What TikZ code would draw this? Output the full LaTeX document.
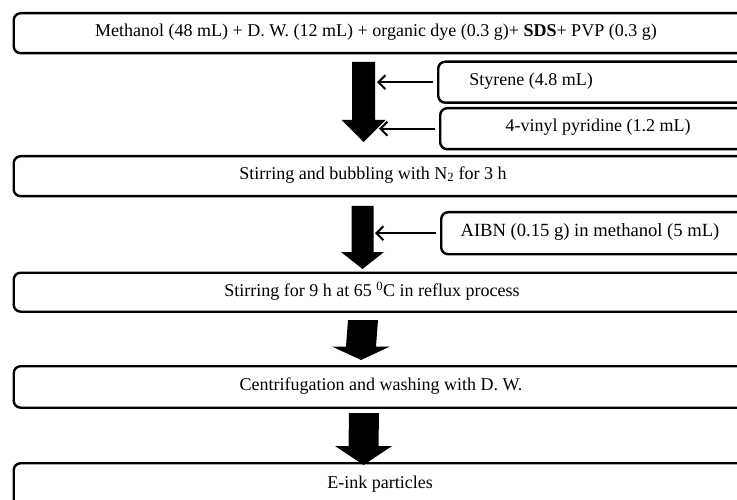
\documentclass[tikz,border=0pt]{standalone}
\usepackage{fontspec}
\setmainfont{Liberation Serif}
\usetikzlibrary{arrows.meta,calc}

% Thick block arrow from #1 (top of shaft) down to #2 (tip):
% #3 half shaft width, #4 half head width, #5 head length
\newcommand\BlockArrow[5]{%
  \fill ($(#1)+(-#3,0)$) -- ($(#1)+(#3,0)$) -- ($(#2)+(#3,-#5)$)
    -- ($(#2)+(#4,-#5)$) -- (#2) -- ($(#2)+(-#4,-#5)$)
    -- ($(#2)+(-#3,-#5)$) -- cycle;}

\begin{document}
\begin{tikzpicture}[x=1pt,y=-1pt,
  stagebox/.style={draw, line width=2.4pt, rounded corners=7pt, inner sep=0pt,
    anchor=north west, minimum width=800pt},
  addbox/.style={draw, line width=2.4pt, rounded corners=7pt, inner sep=0pt,
    anchor=north west, minimum width=360pt},
  label/.style={font=\fontsize{18}{20}\selectfont, inner sep=0pt},
  feed/.style={line width=2pt, -{Straight Barb[length=7pt,width=14pt,line width=2pt]},
    shorten <=4pt}]
\useasboundingbox (0,0) rectangle (737,500);

% main process stages
\node[stagebox, minimum height=40pt]   (b1) at (12.5,12)    {};
\node[stagebox, minimum height=40pt]   (b2) at (12.5,155)   {};
\node[stagebox, minimum height=39pt]   (b3) at (12.5,271.5) {};
\node[stagebox, minimum height=41.5pt] (b4) at (12.5,365)   {};
\node[stagebox, minimum height=46pt]   (b5) at (12.5,462)   {};

\node[label] (t1) at (376,32)  {Methanol (48 mL) + D. W. (12 mL) + organic dye (0.3 g)+ \textbf{SDS}+ PVP (0.3 g)};
\node[label] (t2) at (373,175) {Stirring and bubbling with N\textsubscript{2} for 3 h};
\node[label] (t3) at (372,291) {Stirring for 9 h at 65 \textsuperscript{0}C in reflux process};
\node[label] (t4) at (381,386) {Centrifugation and washing with D. W.};
\node[label] (t5) at (380,484) {E-ink particles};

% added reagents
\node[addbox, minimum height=41pt] (s1) at (437,60.5) {};
\node[addbox, minimum height=41pt] (s2) at (439,107)  {};
\node[addbox, minimum height=42pt] (s3) at (440,211)  {};

\node[label] (u1) at (531,81)    {Styrene (4.8 mL)};
\node[label] (u2) at (598,127.5) {4-vinyl pyridine (1.2 mL)};
\node[label, font=\fontsize{18.6}{20}\selectfont] (u3) at (590,232) {AIBN (0.15 g) in methanol (5 mL)};

% block arrows between stages
\coordinate (a1top) at (363.5,62);  \coordinate (a1tip) at (363.5,142);
\coordinate (a2top) at (362.5,206); \coordinate (a2tip) at (362.5,269);
\coordinate (a3top) at (363,320);   \coordinate (a3tip) at (361,360);
\coordinate (a4top) at (364,413);   \coordinate (a4tip) at (363.5,465);
\BlockArrow{a1top}{a1tip}{11.5}{22}{22}
\BlockArrow{a2top}{a2tip}{11}{21.5}{17}
\BlockArrow{a3top}{a3tip}{15}{29}{13.5}
\BlockArrow{a4top}{a4tip}{15}{28.5}{19}

% reagent feed arrows
\coordinate (k1) at (377,0);
\coordinate (k2) at (379,0);
\coordinate (k3) at (375,0);
\draw[feed] (s1.west) -- (s1.west -| k1);
\draw[feed] (s2.west) -- (s2.west -| k2);
\draw[feed] (s3.west) -- (s3.west -| k3);
\end{tikzpicture}
\end{document}
